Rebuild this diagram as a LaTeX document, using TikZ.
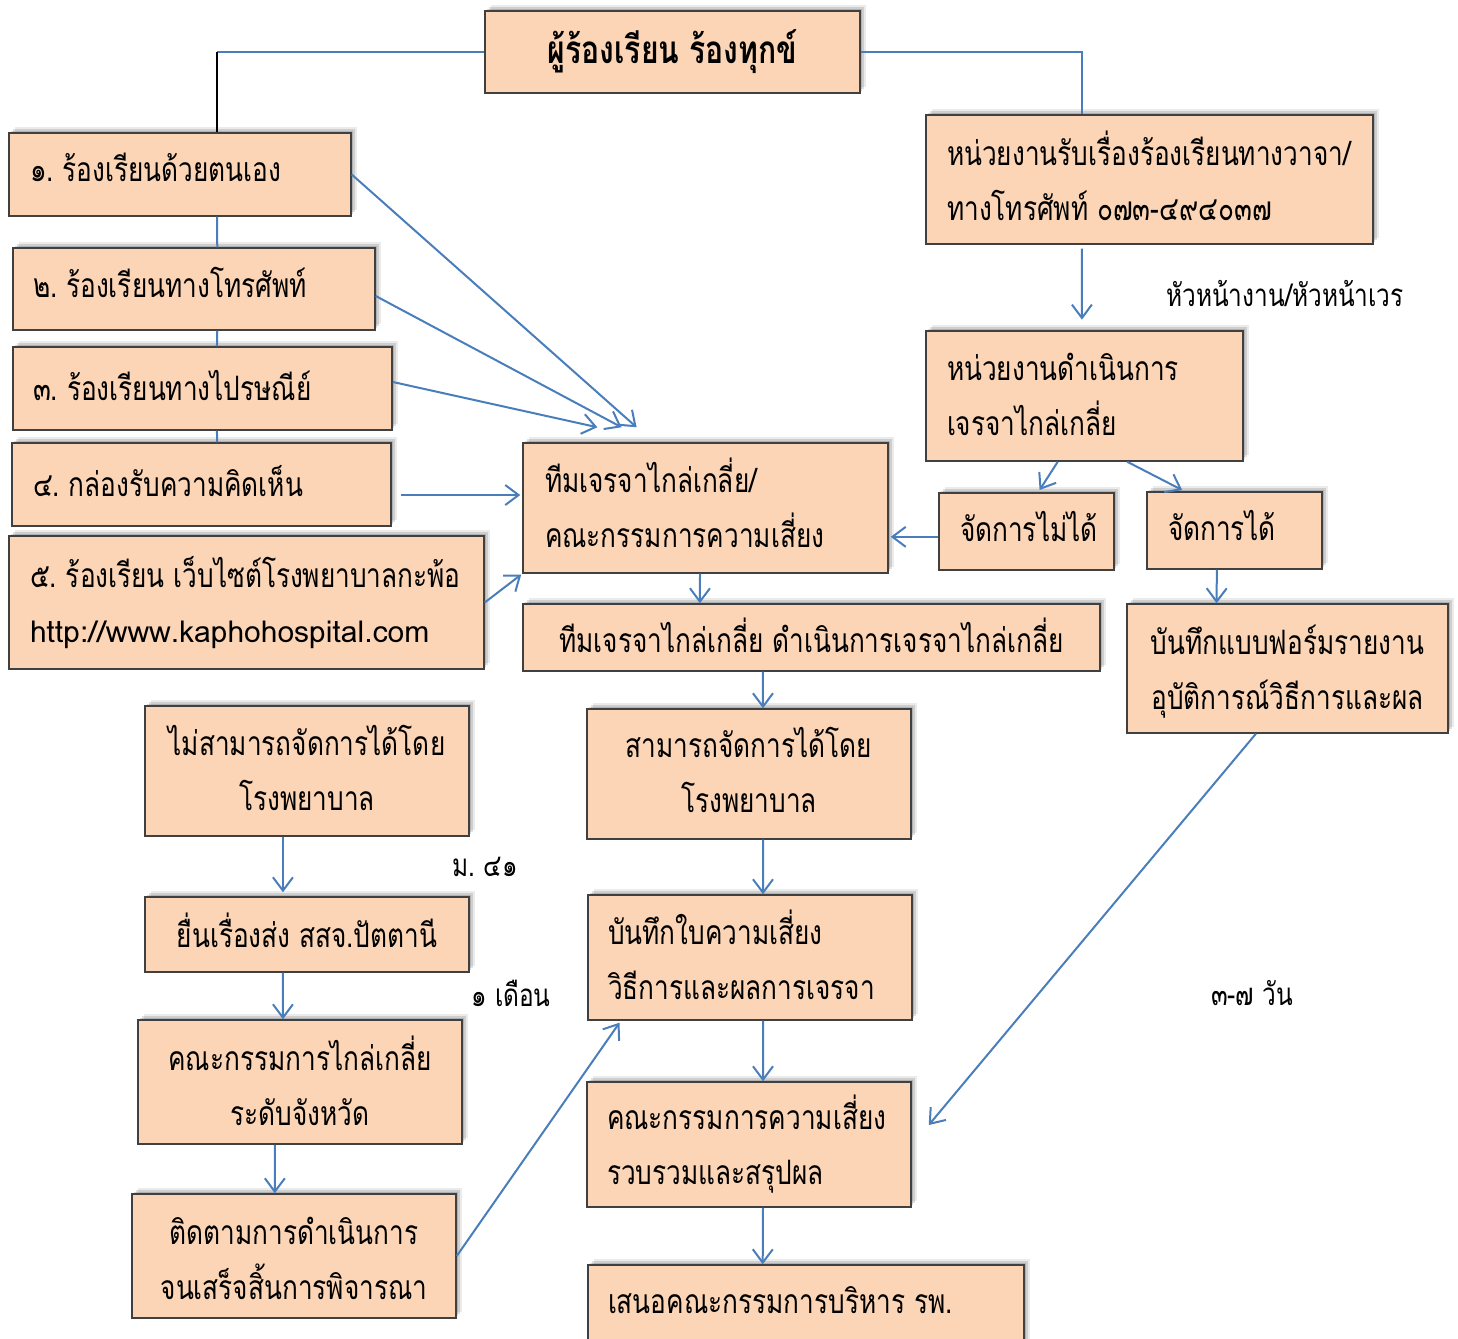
\documentclass[tikz,border=0pt]{standalone}
\usepackage{fontspec}
\newfontfamily\thai[Script=Thai,FakeStretch=0.78]{Loma}
\newfontfamily\thaiurl[Script=Thai]{Loma}
\usetikzlibrary{arrows.meta,shadows,calc}
\definecolor{peach}{HTML}{FBD5B5}
\definecolor{conn}{HTML}{4A7EBB}
\definecolor{bord}{HTML}{404040}
\tikzset{
 box/.style={draw=bord, line width=1.1pt, fill=peach,
   drop shadow={shadow xshift=1.5pt,shadow yshift=1.5pt,opacity=0.14,fill=black},
   drop shadow={shadow xshift=3pt,shadow yshift=3pt,opacity=0.12,fill=black},
   drop shadow={shadow xshift=4.5pt,shadow yshift=4.5pt,opacity=0.08,fill=black},
   inner ysep=0pt, font=\thai\fontsize{25.2}{41.25}\selectfont},
 line/.style={draw=conn, line width=1.5pt},
 blackline/.style={draw=black, line width=1.2pt},
 arr/.style={line, -{Straight Barb[length=10pt,width=15pt,line width=1.5pt]}},
 lbl/.style={font=\thai\fontsize{23.5}{26}\selectfont, inner sep=0pt},
}
% name, x1, y1, x2, y2, alignment, inset(px), raise(px), text
\newcommand\bx[9]{%
 \pgfmathsetmacro\bxw{(#4-#2-2*#7)*0.75}%
 \pgfmathsetmacro\bxh{(#5-#3)*0.75}%
 \pgfmathsetmacro\bxi{#7*0.75}%
 \pgfmathsetmacro\bxr{#8*0.75}%
 \node[box, inner xsep=\bxi pt, minimum height=\bxh pt] (#1) at ({(#2+#4)/2},{(#3+#5)/2})
   {\raisebox{\bxr pt}[\height][\depth]{\parbox{\bxw pt}{#6#9}}};}
\begin{document}
\begin{tikzpicture}[x=0.75pt,y=-0.75pt]
\useasboundingbox (0,0) rectangle (1458,1338);
% boxes
\bx{T}{485}{11}{860}{93}{\centering}{10}{0}{\fontsize{29}{34}\selectfont\bfseries ผู้ร้องเรียน~ร้องทุกข์}
\bx{B1}{9}{133}{351}{216}{\raggedright}{21}{7}{๑.~ร้องเรียนด้วยตนเอง}
\bx{B2}{13}{248}{375}{330}{\raggedright}{20}{7}{๒.~ร้องเรียนทางโทรศัพท์}
\bx{B3}{13}{347}{392}{430}{\raggedright}{20}{3}{๓.~ร้องเรียนทางไปรษณีย์}
\bx{B4}{12}{443}{391}{526}{\raggedright}{21}{3}{๔.~กล่องรับความคิดเห็น}
\bx{B5}{9}{536}{484}{669}{\raggedright}{21}{0}{๕.~ร้องเรียน~เว็บไซต์โรงพยาบาลกะพ้อ\\{\thaiurl\fontsize{22.5}{41.25}\selectfont http://www.kaphohospital.com}}
\bx{TM}{523}{443}{888}{573}{\raggedright}{22}{5}{ทีมเจรจาไกล่เกลี่ย/\\คณะกรรมการความเสี่ยง}
\bx{R1}{926}{115}{1373}{244}{\raggedright}{21}{4}{หน่วยงานรับเรื่องร้องเรียนทางวาจา/\\ทางโทรศัพท์~๐๗๓-๔๙๔๐๓๗}
\bx{R2}{926}{331}{1243}{461}{\raggedright}{21}{2}{หน่วยงานดำเนินการ\\เจรจาไกล่เกลี่ย}
\bx{NC}{939}{493}{1114}{570}{\raggedright}{21}{5}{จัดการไม่ได้}
\bx{C}{1147}{492}{1322}{569}{\raggedright}{21}{5}{จัดการได้}
\bx{Rec}{1127}{604}{1448}{733}{\centering}{10}{-3}{บันทึกแบบฟอร์มรายงาน\\อุบัติการณ์วิธีการและผล}
\bx{N}{523}{604}{1100}{671}{\centering}{10}{2}{ทีมเจรจาไกล่เกลี่ย~ดำเนินการเจรจาไกล่เกลี่ย}
\bx{S}{587}{709}{911}{839}{\centering}{10}{4}{สามารถจัดการได้โดย\\โรงพยาบาล}
\bx{RR}{588}{895}{912}{1020}{\raggedright}{20}{3}{บันทึกใบความเสี่ยง\\วิธีการและผลการเจรจา}
\bx{CR}{587}{1082}{911}{1207}{\raggedright}{20}{0}{คณะกรรมการความเสี่ยง\\รวบรวมและสรุปผล}
\bx{P}{588}{1265}{1024}{1345}{\raggedright}{20}{5}{เสนอคณะกรรมการบริหาร~รพ.}
\bx{U}{145}{706}{469}{836}{\centering}{10}{3}{ไม่สามารถจัดการได้โดย\\โรงพยาบาล}
\bx{F}{145}{897}{469}{972}{\centering}{10}{4}{ยื่นเรื่องส่ง~สสจ.ปัตตานี}
\bx{PC}{138}{1020}{462}{1144}{\centering}{10}{1}{คณะกรรมการไกล่เกลี่ย\\ระดับจังหวัด}
\bx{Fo}{132}{1194}{456}{1318}{\centering}{10}{-2}{ติดตามการดำเนินการ\\จนเสร็จสิ้นการพิจารณา}
% labels
\node[lbl] (l1) at (1285,293) {หัวหน้างาน/หัวหน้าเวร};
\node[lbl] (l2) at (485,867) {ม.~๔๑};
\node[lbl] (l3) at (511,993) {๑~เดือน};
\node[lbl] (l4) at (1252,993) {๓-๗~วัน};
% connectors
\coordinate (b1t) at ($(B1.north west)!0.608!(B1.north east)$);
\draw[line] (T.west) -- (T.west -| b1t);
\draw[blackline] (T.west -| b1t) -- (b1t);
\draw[line] ($(B1.south west)!0.608!(B1.south east)$) -- ($(B2.north west)!0.564!(B2.north east)$);
\draw[line] ($(B2.south west)!0.564!(B2.south east)$) -- ($(B3.north west)!0.538!(B3.north east)$);
\draw[line] ($(B3.south west)!0.538!(B3.south east)$) -- ($(B4.north west)!0.541!(B4.north east)$);
\coordinate (r1t) at ($(R1.north west)!0.349!(R1.north east)$);
\draw[line] (T.east) -| (r1t);
\draw[arr, shorten <=3pt, shorten >=8pt] ($(R1.south west)!0.349!(R1.south east)$) -- ($(R2.north west)!0.492!(R2.north east)$);
\draw[arr] (B1.east) -- ([yshift=11.25pt]$(TM.north west)!0.312!(TM.north east)$);
\draw[arr] ([yshift=-5.25pt]B2.east) -- ([yshift=11.25pt]$(TM.north west)!0.271!(TM.north east)$);
\draw[arr] ([yshift=4.9pt]B3.east) -- ([yshift=11.25pt]$(TM.north west)!0.205!(TM.north east)$);
\coordinate (b4o) at ([xshift=6.75pt,yshift=-7.9pt]B4.east);
\draw[arr, shorten >=1.5pt] (b4o) -- (b4o -| TM.west);
\draw[arr, shorten >=1pt] (B5.east) -- (TM.south west);
\draw[arr, shorten >=2pt] ($(R2.south west)!0.416!(R2.south east)$) -- ($(NC.north west)!0.566!(NC.north east)$);
\draw[arr, shorten >=2pt] ($(R2.south west)!0.634!(R2.south east)$) -- ($(C.north west)!0.217!(C.north east)$);
\coordinate (nco) at ([yshift=-4pt]NC.west);
\draw[arr, shorten >=1.5pt] (nco) -- (nco -| TM.east);
\draw[arr] ($(C.south west)!0.4!(C.south east)$) -- ($(Rec.north west)!0.28!(Rec.north east)$);
\draw[arr] ($(Rec.south west)!0.402!(Rec.south east)$) -- ([xshift=12.75pt,yshift=14.6pt]CR.east);
\draw[arr] ($(TM.south west)!0.485!(TM.south east)$) -- ($(N.north west)!0.307!(N.north east)$);
\draw[arr] ($(N.south west)!0.416!(N.south east)$) -- ($(S.north west)!0.543!(S.north east)$);
\draw[arr] ($(S.south west)!0.543!(S.south east)$) -- ($(RR.north west)!0.540!(RR.north east)$);
\draw[arr] ($(RR.south west)!0.540!(RR.south east)$) -- ($(CR.north west)!0.543!(CR.north east)$);
\draw[arr] ($(CR.south west)!0.543!(CR.south east)$) -- ($(P.north west)!0.401!(P.north east)$);
\draw[arr, shorten >=3pt] ($(U.south west)!0.426!(U.south east)$) -- ($(F.north west)!0.426!(F.north east)$);
\draw[arr] ($(F.south west)!0.426!(F.south east)$) -- ($(PC.north west)!0.4475!(PC.north east)$);
\draw[arr] ($(PC.south west)!0.423!(PC.south east)$) -- ($(Fo.north west)!0.441!(Fo.north east)$);
\draw[arr] (Fo.east) -- ([yshift=-1.5pt]$(RR.south west)!0.099!(RR.south east)$);
\end{tikzpicture}
\end{document}
